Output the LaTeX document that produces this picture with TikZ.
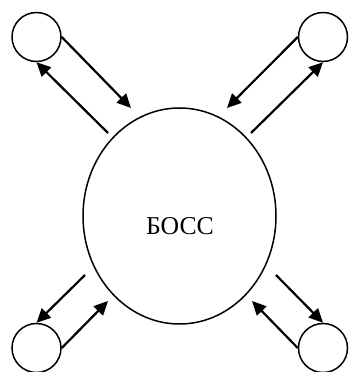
\documentclass[tikz,border=0pt]{standalone}
\usepackage{fontspec}
\setmainfont{Liberation Serif}
\usepackage{tikz}
\usetikzlibrary{shapes.geometric, arrows.meta, positioning}

\begin{document}
\begin{tikzpicture}[x=1pt, y=1pt,
    worker/.style={circle, draw, line width=1.5pt, minimum size=49pt, inner sep=0pt},
    flow/.style={-{Triangle[length=14pt, width=13pt]}, line width=2.2pt}]
    \useasboundingbox (0,0) rectangle (348,372);

    % The boss
    \node[ellipse, draw, line width=1.5pt, minimum width=193pt, minimum height=216pt, inner sep=0pt] (boss) at (179.5,156) {};
    \node[font=\fontsize{25.7}{30}\selectfont] (bossname) at (180,146) {БОСС};

    % Subordinates
    \node[worker] (tl) at (36.5,335) {};
    \node[worker] (tr) at (323,335) {};
    \node[worker] (bl) at (36.5,24) {};
    \node[worker] (br) at (323,24) {};

    % Free ends near the boss
    \coordinate (tlin)  at (131,264);
    \coordinate (tlout) at (108,239);
    \coordinate (trin)  at (227,264);
    \coordinate (trout) at (251,239);
    \coordinate (blin)  at (108,71);
    \coordinate (blout) at (85,97);
    \coordinate (brin)  at (252,71);
    \coordinate (brout) at (276,97);

    % Two-way traffic
    \draw[flow] (tl.east) -- (tlin);
    \draw[flow] (tlout) -- (tl.south);
    \draw[flow] (tr.west) -- (trin);
    \draw[flow] (trout) -- (tr.south);
    \draw[flow] (bl.east) -- (blin);
    \draw[flow] (blout) -- (bl.north);
    \draw[flow] (br.west) -- (brin);
    \draw[flow] (brout) -- (br.north);
\end{tikzpicture}
\end{document}
